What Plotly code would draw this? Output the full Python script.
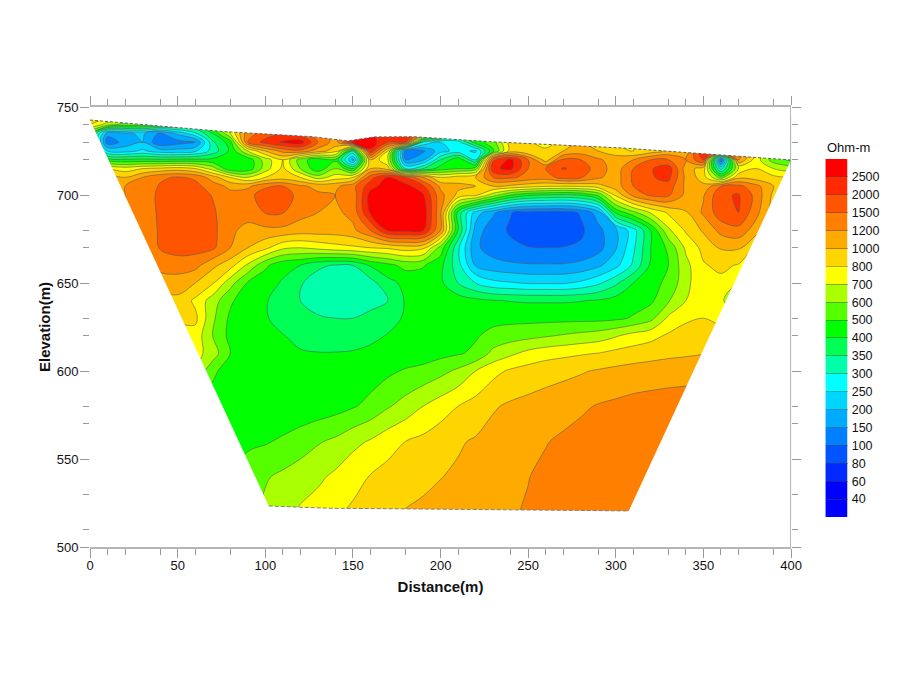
import numpy as np
import plotly.graph_objects as go

# resistivity band limits and the colour of each band (bottom to top)
levels = [40, 60, 80, 100, 150, 200, 250, 300, 350, 400, 500, 600, 700, 800, 1000, 1200, 1500, 2000, 2500]
level_labels = ["40", "60", "80", "100", "150", "200", "250", "300", "350", "400", "500", "600", "700", "800",
                "1000", "1200", "1500", "2000", "2500"]
band_colors = ["#0000ff", "#0000ff", "#002aff", "#0055ff", "#0080ff", "#00aaff", "#00d5ff", "#00ffff", "#00ffaa",
               "#00ff55", "#00ff00", "#55ff00", "#aaff00", "#ffff00", "#ffd500", "#ffaa00", "#ff8000", "#ff5500",
               "#ff2a00", "#ff0000"]

distance = [0, 10, 20, 30, 40, 50, 60, 70, 80, 90, 100, 110, 120, 130, 140, 150, 160, 170, 180, 190, 200,
            210, 220, 230, 240, 250, 260, 270, 280, 290, 300, 310, 320, 330, 340, 350, 360, 370, 380, 390, 400]
elevation = [745, 740, 735, 730, 725, 720, 715, 710, 705, 700, 690, 680, 670, 660, 650, 640, 630, 620, 610, 600,
             580, 560, 540, 515]

rho = [
    [900,900,800,800,700,600,500,600,900,1200,1500,1600,1400,1200,1100,1400,2500,2600,2900,1100,700,500,480,600,1000,900,700,900,1000,1000,800,800,1000,1050,1050,2000,1200,1300,800,650,500],
    [800,650,550,550,500,450,420,500,800,1200,1500,1600,1400,1200,1100,1400,2500,2600,2900,1100,700,500,480,600,1000,900,700,900,1000,1000,800,800,1000,1050,1050,2000,1200,1300,800,650,500],
    [500,170,190,210,140,210,290,400,700,1400,1700,1950,1700,1300,1150,1500,2500,2600,2900,1100,700,450,450,600,1000,900,700,900,1000,1000,800,800,1000,1050,1050,2000,1200,1300,800,650,500],
    [500,115,170,200,110,130,140,340,450,1500,2200,2600,2900,1500,1100,2600,2900,2000,2000,300,250,280,450,550,900,850,750,900,1000,1000,800,800,1000,1050,1050,2000,1200,1300,800,650,500],
    [600,250,230,260,220,220,240,320,420,700,1000,1300,1400,1100,900,350,2400,800,120,140,230,270,240,480,900,800,850,1000,1100,1000,900,800,900,1050,1050,2600,1200,1400,800,650,450],
    [600,450,420,430,420,430,430,430,420,430,650,800,550,430,480,180,1000,700,150,190,350,480,300,1900,2700,1500,900,1600,1500,1250,1100,1200,1500,1500,1200,2000,100,1200,750,550,480],
    [900,800,750,800,850,900,800,650,420,430,650,850,600,430,600,400,1000,900,300,350,450,500,550,2400,2700,1500,1500,2050,1800,1350,1100,1500,1950,2300,1100,900,280,700,800,700,650],
    [1100,1100,1000,1200,1450,1550,1450,1100,800,700,800,900,800,650,750,800,1800,2600,2000,1200,800,900,1000,1500,1600,1400,1350,1700,1550,1250,1100,1600,1950,2150,1150,900,550,950,900,850,800],
    [1200,1200,1200,1300,1550,1800,1650,1350,1150,1150,1450,1500,1250,1150,1150,1400,2300,2900,2800,2100,1150,1050,1000,1000,950,880,820,800,830,920,1100,1500,1900,1800,1150,1050,1500,1650,1300,1000,950],
    [1200,1200,1200,1350,1600,1800,1750,1480,1300,1400,1750,1750,1400,1250,1200,1300,2800,3000,3000,2600,1300,950,850,650,500,420,400,390,410,520,850,1300,1600,1600,1150,1180,1900,2050,1400,950,900],
    [1200,1200,1200,1300,1600,1850,1800,1600,1250,1300,1520,1520,1300,1200,1150,1300,2600,3000,3000,3000,1250,380,225,160,102,93,92,92,105,175,420,570,710,830,980,1250,1800,2000,1300,900,850],
    [1100,1150,1200,1250,1580,1800,1800,1650,1250,1150,1150,1150,1100,1100,1100,1150,1500,2600,2700,2600,1200,400,180,115,98,88,85,85,96,135,190,280,410,680,830,1030,1300,1400,1100,850,800],
    [1000,1050,1100,1150,1550,1700,1700,1600,1200,1000,850,720,700,730,760,780,800,830,900,850,560,310,160,125,108,102,100,102,108,130,195,290,400,520,720,860,1020,1030,780,750,750],
    [1000,1000,1050,1150,1300,1350,1300,1050,880,680,520,430,400,360,345,350,410,470,530,510,430,320,195,170,160,155,155,155,165,190,235,310,420,500,670,790,850,790,700,700,700],
    [900,900,950,1100,1100,1100,1000,820,640,490,440,395,355,325,310,315,330,385,425,440,420,350,300,265,255,245,245,245,260,290,340,400,470,520,670,780,770,690,600,600,600],
    [850,850,850,850,900,950,780,650,520,430,410,375,350,310,305,310,325,350,410,450,480,450,425,405,398,395,395,395,398,410,440,460,480,590,700,750,710,650,600,600,600],
    [820,820,820,820,820,820,850,620,480,430,410,380,365,360,350,350,370,385,410,430,440,445,450,470,470,470,470,470,470,470,480,510,570,720,790,800,770,720,680,680,680],
    [780,780,780,780,780,780,760,600,470,440,420,405,385,370,370,375,390,405,420,430,440,470,490,530,555,570,590,610,630,650,690,740,770,830,850,860,880,890,890,890,890],
    [760,760,760,760,760,760,740,650,500,460,430,415,410,405,405,410,420,430,440,450,470,490,520,630,680,730,760,775,790,805,860,890,920,950,970,990,1000,1000,1000,1000,1000],
    [700,700,700,700,700,700,680,530,430,410,405,405,410,415,420,430,450,480,510,530,570,620,700,770,830,880,920,950,980,1020,1050,1080,1100,1120,1130,1150,1150,1150,1150,1150,1150],
    [450,450,450,450,450,450,450,430,420,420,420,425,430,440,460,490,530,590,640,700,750,800,880,980,1030,1060,1090,1120,1170,1220,1260,1300,1320,1330,1340,1340,1340,1340,1340,1340,1340],
    [450,450,450,450,450,450,450,450,450,480,490,515,550,590,620,670,710,760,800,850,920,980,1020,1070,1100,1150,1190,1250,1300,1350,1400,1400,1400,1400,1400,1400,1400,1400,1400,1400,1400],
    [500,500,500,500,500,500,500,500,500,550,590,620,650,680,720,770,810,870,920,960,995,1025,1060,1100,1150,1195,1260,1320,1350,1380,1400,1400,1400,1400,1400,1400,1400,1400,1400,1400,1400],
    [500,500,500,500,500,500,500,500,500,560,630,690,730,760,800,850,900,985,1030,1050,1070,1090,1120,1150,1190,1230,1280,1320,1350,1380,1400,1400,1400,1400,1400,1400,1400,1400,1400,1400,1400],
]

# outline of the section
surface_x = [0, 29, 77, 127, 147, 162, 185, 199, 228, 304, 348, 400]
surface_z = [742.6, 740, 736, 733.1, 730.7, 733, 733.1, 732.2, 730.3, 726.7, 723.6, 719.9]
base_x = [102, 137, 200, 307.4]
base_z = [523.3, 522, 521.5, 520.5]

x_minor = [10, 20, 40, 60, 80, 110, 120, 140, 160, 180, 210, 240, 260, 270, 290, 310, 330, 340, 360, 370, 390]
y_minor = [510, 530, 570, 580, 620, 630, 670, 680, 720, 730, 740]

# bands are not evenly spaced, so contour on the band index
idx_levels = [20] + levels + [3200]
z_idx = np.interp(np.array(rho, dtype=float), idx_levels, np.arange(-1, 20))
colorscale = [[i / 19, c] for i, c in enumerate(band_colors)]

fig = go.Figure()
fig.add_trace(go.Contour(
    x=distance, y=elevation, z=z_idx,
    autocontour=False,
    contours=dict(start=0, end=18, size=1, coloring="fill"),
    line=dict(color="#5a5a5a", width=0.6, smoothing=1),
    colorscale=colorscale,
    showscale=False,
    hoverinfo="skip",
))

# white out everything around the section
mask_x = [0, 0, 400, 400, 0, 0] + base_x + surface_x[::-1]
mask_y = [742.6, 750, 750, 500, 500, 742.6] + base_z + surface_z[::-1]
fig.add_trace(go.Scatter(x=mask_x, y=mask_y, mode="lines", fill="toself", fillcolor="white",
                         line=dict(width=0), showlegend=False, hoverinfo="skip"))
fig.add_trace(go.Scatter(x=surface_x, y=surface_z, mode="lines", showlegend=False, hoverinfo="skip",
                         line=dict(color="#606060", width=1, dash="3px,2px")))
fig.add_trace(go.Scatter(x=base_x, y=base_z, mode="lines", showlegend=False, hoverinfo="skip",
                         line=dict(color="#808080", width=1, dash="4px,2px")))

# legend bar: the built in colorbar halves its end bands, so it gets its own axes
fig.add_trace(go.Heatmap(
    x=[0], y=list(range(20)), z=[[i] for i in range(20)],
    colorscale=colorscale, zmin=0, zmax=19, showscale=False, hoverinfo="skip",
    xaxis="x2", yaxis="y2",
))

# right hand axis line, no line on the left in the original
fig.add_shape(type="line", x0=400, x1=400, y0=500, y1=750, xref="x", yref="y",
              line=dict(color="#999999", width=1.5), layer="above")

tick_font = dict(family="Liberation Sans", size=13, color="#111111")
fig.update_layout(
    xaxis=dict(
        domain=[0, 0.89306],
        range=[0, 400], tickmode="array", tickvals=[0, 50, 100, 150, 200, 250, 300, 350, 400],
        ticks="outside", ticklen=9, tickcolor="#999999", tickwidth=1, ticklabelstandoff=-3,
        showline=True, linecolor="#b5b5b5", linewidth=1.5, mirror="ticks", showgrid=False, zeroline=False,
        minor=dict(tickmode="array", tickvals=x_minor, ticks="outside", ticklen=6, tickcolor="#999999", tickwidth=1),
        tickfont=tick_font,
        title=dict(text="<b>Distance(m)</b>", font=dict(family="Liberation Sans", size=15, color="#111111"), standoff=9),
    ),
    yaxis=dict(
        range=[500, 750], tickmode="array", tickvals=[500, 550, 600, 650, 700, 750],
        ticks="outside", ticklen=9, tickcolor="#999999", tickwidth=1, ticklabelstandoff=-1,
        showline=False, mirror="ticks", showgrid=False, zeroline=False,
        minor=dict(tickmode="array", tickvals=y_minor, ticks="outside", ticklen=6, tickcolor="#999999", tickwidth=1),
        tickfont=tick_font,
        title=dict(text="<b>Elevation(m)</b>", font=dict(family="Liberation Sans", size=15, color="#111111"), standoff=2),
    ),
    xaxis2=dict(domain=[0.93673, 0.96525], anchor="y2", visible=False),
    yaxis2=dict(
        domain=[0.0682, 0.8818], anchor="x2", side="right", range=[-0.5, 19.5],
        tickmode="array", tickvals=[i + 0.5 for i in range(19)], ticktext=level_labels,
        ticks="inside", ticklen=22, tickcolor="rgba(70,70,70,0.45)", tickwidth=1,
        showline=False, showgrid=False, zeroline=False, ticklabelstandoff=3,
        tickfont=dict(family="Liberation Sans", size=12.5, color="#111111"),
    ),
)
fig.add_annotation(text="Ohm-m", xref="paper", yref="paper", x=0.93673, y=0.887, xanchor="left", yanchor="bottom",
                   showarrow=False, font=dict(family="Liberation Sans", size=13, color="#111111"))

# the page adds an 8 px body margin, so the margins are 8 px less on the top left
fig.update_layout(
    width=900, height=674, margin=dict(l=81.5, r=33, t=99, b=135, pad=0),
    paper_bgcolor="white", plot_bgcolor="white", showlegend=False,
)
fig.write_html("out.html")
